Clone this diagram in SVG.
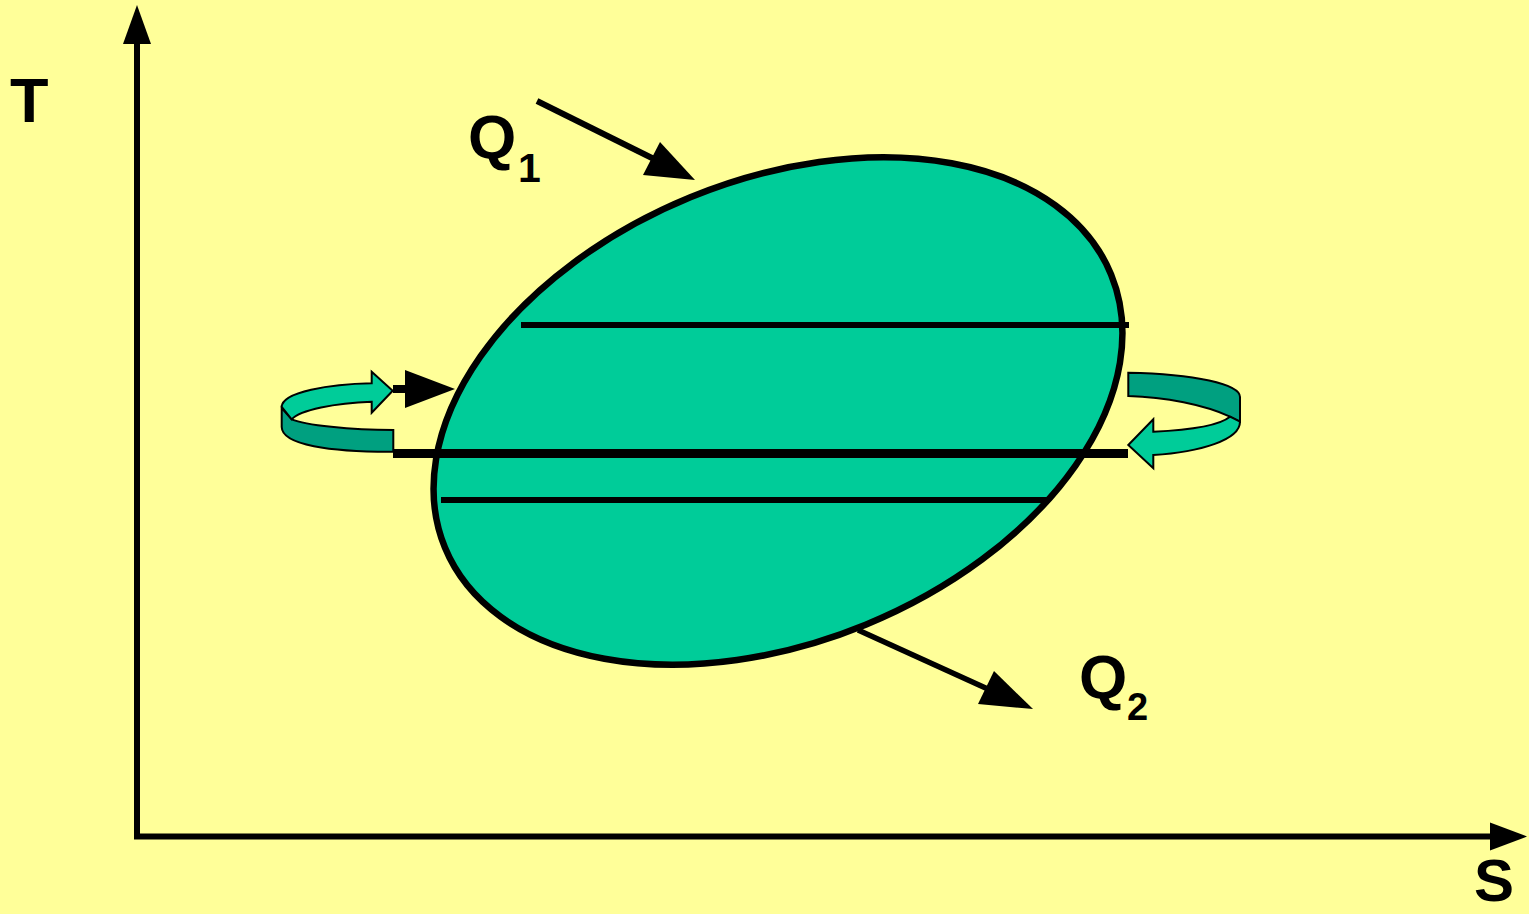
<svg xmlns="http://www.w3.org/2000/svg" width="1529" height="914" viewBox="0 0 1529 914">
<style>
.lbl{font-family:"Liberation Sans",Arial,sans-serif;font-weight:bold;fill:#000}
.ln{stroke:#000;fill:none}
.lt{fill:#00CC99;stroke:#000;stroke-width:2;stroke-linejoin:miter}
.dk{fill:#00A080;stroke:#000;stroke-width:2;stroke-linejoin:miter}
</style>
<rect x="0" y="0" width="1529" height="914" fill="#FFFF99"/>
<g id="axes">
<line class="ln" x1="137" y1="839" x2="137" y2="40" stroke-width="6"/>
<polygon points="137,5 123,44 151,44" fill="#000"/>
<line class="ln" x1="134" y1="836.5" x2="1492" y2="836.5" stroke-width="6"/>
<polygon points="1527,836.5 1490,822.5 1490,850.5" fill="#000"/>
<text class="lbl" x="10" y="122" font-size="63">T</text>
<text class="lbl" x="1474" y="901" font-size="60">S</text>
</g>
<g id="cycle">
<ellipse cx="778" cy="411" rx="360" ry="231" transform="rotate(-22.3 778 411)" fill="#00CC99" stroke="#000" stroke-width="6.5"/>
<line class="ln" x1="521" y1="325" x2="1129" y2="325" stroke-width="6"/>
<line class="ln" x1="393" y1="453.5" x2="1128" y2="453.5" stroke-width="9"/>
<line class="ln" x1="441" y1="500" x2="1048" y2="500" stroke-width="6"/>
</g>
<g id="left-arrow">
<path class="dk" d="M281.7,408 L291.7,419.3 C305,425 350,430 393.3,430 L393.3,451.7 C330,452 282,445 281.7,427 Z"/>
<path class="lt" d="M371.7,383.3 L371.7,371.7 L392.7,390.7 L371.7,412.7 L371.7,401.7 C335,403 300,410 291.7,419.3 L281.7,407 C282,392 330,384 371.7,383.3 Z"/>
<line class="ln" x1="393" y1="389" x2="408" y2="389" stroke-width="8"/>
<polygon points="455,389 405,370 405,408" fill="#000"/>
</g>
<g id="right-arrow">
<path class="dk" d="M1128.3,372.7 C1195,374 1240,384 1240,397 L1240,421.7 L1230,416.7 C1205,405 1165,397 1128.3,396 Z"/>
<path class="lt" d="M1230,416.7 L1240,421.7 C1240,440 1200,452 1153.3,455 L1153.3,468.3 L1128.3,445 L1153.3,419.3 L1153.3,431.7 C1190,430 1220,425 1230,416.7 Z"/>
</g>
<g id="connectors">
<line class="ln" x1="537" y1="101" x2="656" y2="160" stroke-width="6"/>
<polygon points="695,180 643,175 660,142" fill="#000"/>
<line class="ln" x1="858" y1="630" x2="990" y2="690" stroke-width="5.5"/>
<polygon points="1033,709 978,704 994,671" fill="#000"/>
</g>
<g id="q1">
<text class="lbl" x="468" y="158" font-size="62">Q</text>
<text class="lbl" x="518" y="182" font-size="41">1</text>
</g>
<g id="q2">
<text class="lbl" x="1079" y="698" font-size="62">Q</text>
<text class="lbl" x="1127" y="720" font-size="38">2</text>
</g>
</svg>
